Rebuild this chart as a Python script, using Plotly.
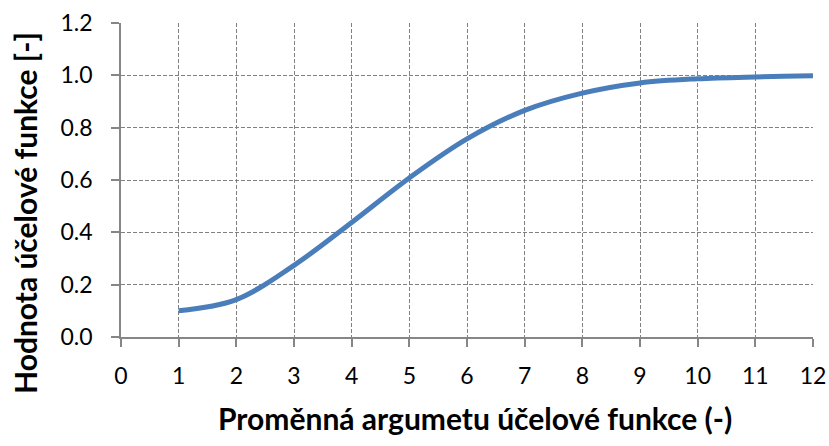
import plotly.graph_objects as go

x_vals = [1, 2, 3, 4, 5, 6, 7, 8, 9, 10, 11, 12]
y_vals = [0.10, 0.143, 0.274, 0.438, 0.608, 0.757, 0.866, 0.932, 0.971, 0.987, 0.994, 0.998]
x_ticks = list(range(0, 13))
y_ticks = [0.0, 0.2, 0.4, 0.6, 0.8, 1.0, 1.2]
x_title = "Proměnná argumetu účelové funkce (-)"
y_title = "Hodnota účelové funkce [-]"

L, R, T, B = 121, 16, 23, 109
W, H = 829, 446
pw, ph = W - L - R, H - T - B

fig = go.Figure()
fig.add_trace(go.Scatter(x=x_vals, y=y_vals, mode="lines",
                         line=dict(color="#4a7ebb", width=5, shape="spline", smoothing=1.0)))

grid = dict(showgrid=True, gridcolor="#808080", griddash="4px,2px", gridwidth=1.2)
axis_common = dict(showline=True, linecolor="#868686", linewidth=1.5,
                   ticks="outside", ticklen=8, tickcolor="#868686", tickwidth=1.5,
                   zeroline=False, automargin=False, **grid)
fig.update_layout(
    width=W, height=H,
    margin=dict(l=L, r=R, t=T, b=B),
    paper_bgcolor="white", plot_bgcolor="white",
    showlegend=False,
    font=dict(family="Lato", size=23, color="black"),
    xaxis=dict(range=[0, 12], tickvals=x_ticks, ticktext=[str(v) for v in x_ticks],
               ticklabelstandoff=10, **axis_common),
    yaxis=dict(range=[0, 1.2], tickvals=y_ticks, ticktext=[f"{v:.1f}" for v in y_ticks],
               ticklabelstandoff=14, **axis_common),
    annotations=[
        dict(text=f"<b>{x_title}</b>", x=(475 - L) / pw, y=-(418 - (H - B)) / ph,
             xref="paper", yref="paper", showarrow=False, font=dict(size=30),
             xanchor="center", yanchor="middle"),
        dict(text=f"<b>{y_title}</b>", x=-(L - 25) / pw, y=((H - B) - 213) / ph, textangle=-90,
             xref="paper", yref="paper", showarrow=False, font=dict(size=30),
             xanchor="center", yanchor="middle"),
    ],
)
fig.write_html("out.html", config={"displayModeBar": False},
               post_script="document.body.style.margin='0';document.body.style.overflow='hidden';")
